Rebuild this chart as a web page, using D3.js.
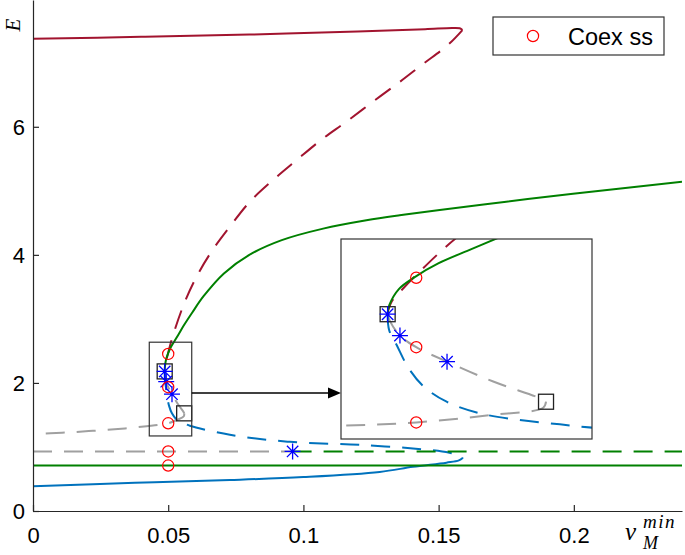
<!DOCTYPE html>
<html>
<head>
<meta charset="utf-8">
<script src="https://cdn.jsdelivr.net/npm/d3@7"></script>
<style>
  body { margin: 0; background: #fff; }
  svg { display: block; }
</style>
</head>
<body>
<div id="chart"></div>
<script>
// axis ticks
var xTicks = [0, 0.05, 0.1, 0.15, 0.2],
    xTickLabels = ["0", "0.05", "0.1", "0.15", "0.2"],
    yTicks = [0, 2, 4, 6],
    yTickLabels = ["0", "2", "4", "6"];

// branches [vMmin, E]
var redSolid = [[0, 7.375], [0.04, 7.405], [0.08, 7.44], [0.12, 7.49], [0.145, 7.525], [0.155, 7.543], [0.1578, 7.538], [0.1588, 7.51]];
var redDashed = [[0.1588, 7.51], [0.1535, 7.28], [0.1442, 6.98], [0.1356, 6.70], [0.1258, 6.395], [0.1159, 6.08], [0.1067, 5.80],
    [0.0975, 5.48], [0.0888, 5.17], [0.0802, 4.83], [0.0728, 4.44], [0.066, 4.05], [0.0605, 3.66], [0.0560, 3.25],
    [0.0518, 2.748], [0.0500, 2.473], [0.04934, 2.361], [0.04888, 2.273], [0.0487, 2.19]];
var greenSolid = [[0.0487, 2.19], [0.04878, 2.25], [0.04922, 2.37], [0.04995, 2.46], [0.0510, 2.56], [0.0524, 2.66],
    [0.0537, 2.75], [0.0558, 2.90], [0.0589, 3.10], [0.0630, 3.35], [0.0706, 3.71], [0.0800, 4.00], [0.0920, 4.23],
    [0.1073, 4.41], [0.1233, 4.54], [0.1356, 4.618], [0.1504, 4.70], [0.175, 4.83], [0.1997, 4.955], [0.24, 5.14]];
var grayUpper = [[0.0487, 2.18], [0.0488, 2.13], [0.04926, 2.02], [0.05, 1.933], [0.0514, 1.825], [0.0535, 1.676], [0.05562, 1.551], [0.0559, 1.525]];
var grayLower = [[0.0559, 1.525], [0.05577, 1.48], [0.05336, 1.425], [0.05, 1.37], [0.0465, 1.345], [0.042, 1.325],
    [0.034, 1.29], [0.0222, 1.252], [0.0107, 1.222], [0, 1.20]];
var blueDashed = [[0.0487, 2.18], [0.04877, 2.06], [0.04911, 1.95], [0.04964, 1.78], [0.05032, 1.642], [0.05138, 1.525],
    [0.0529, 1.438], [0.05471, 1.388], [0.05653, 1.356], [0.058, 1.331], [0.0728, 1.19], [0.095, 1.08], [0.122, 1.03],
    [0.1467, 0.953], [0.154, 0.91], [0.158, 0.865], [0.159, 0.83]];
var blueSolid = [[0.159, 0.83], [0.1575, 0.79], [0.1529, 0.755], [0.1405, 0.69], [0.1282, 0.61], [0.1, 0.53], [0.0728, 0.484],
    [0.0377, 0.44], [0, 0.386]];
var grayFlat = [[0, 0.93], [0.096, 0.93]];
var greenFlatDashed = [[0.096, 0.93], [0.24, 0.93]];
var greenFlat = [[0, 0.71], [0.24, 0.71]];

// markers
var coexX = [0.05, 0.05, 0.05, 0.05, 0.05],
    coexY = [2.453, 1.933, 1.37, 0.93, 0.71];
var squareX = [0.0487, 0.0559],
    squareY = [2.18, 1.525];
var starX = [0.0487, 0.04926, 0.0514, 0.096],
    starY = [2.18, 2.02, 1.825, 0.93];

// zoom box (data) and inset limits
var zoomBoxX = [0.043, 0.0587],
    zoomBoxY = [1.172, 2.636];
var insetXLim = [0.04658, 0.05799],
    insetYLim = [1.246, 2.743];

var colRed = "#a2142f", colGreen = "#008000", colBlue = "#0072bd", colGray = "#a0a0a0";
var dash = "19,12";

var branches = [
    { d: redSolid, c: colRed, dash: null },
    { d: redDashed, c: colRed, dash: dash },
    { d: greenSolid, c: colGreen, dash: null },
    { d: grayUpper, c: colGray, dash: dash },
    { d: grayLower, c: colGray, dash: dash },
    { d: blueDashed, c: colBlue, dash: dash },
    { d: blueSolid, c: colBlue, dash: null },
    { d: grayFlat, c: colGray, dash: dash },
    { d: greenFlatDashed, c: colGreen, dash: dash },
    { d: greenFlat, c: colGreen, dash: null }
];

var width = 685, height = 555;
var svg = d3.select("#chart").append("svg")
    .attr("width", width)
    .attr("height", height)
    .style("font-family", "'Liberation Sans', Arial, sans-serif");

var x = d3.scaleLinear().domain([0, 0.24]).range([33, 682]);
var y = d3.scaleLinear().domain([0, 7.98]).range([511, 0]);

var defs = svg.append("defs");
defs.append("clipPath").attr("id", "mainClip").append("rect")
    .attr("x", x(0)).attr("y", 0).attr("width", x(0.24) - x(0)).attr("height", y(0));

// draw curves + markers for one pair of scales
function drawAll(g, sx, sy) {
    var line = d3.line()
        .x(function (p) { return sx(p[0]); })
        .y(function (p) { return sy(p[1]); })
        .curve(d3.curveCatmullRom.alpha(0.5));

    branches.forEach(function (b) {
        g.append("path")
            .attr("d", line(b.d))
            .attr("fill", "none")
            .attr("stroke", b.c)
            .attr("stroke-width", 2)
            .attr("stroke-dasharray", b.dash);
    });

    // squares
    squareX.forEach(function (v, i) {
        g.append("rect")
            .attr("x", sx(v) - 7.5).attr("y", sy(squareY[i]) - 7.5)
            .attr("width", 15).attr("height", 15)
            .attr("fill", "none").attr("stroke", "#222").attr("stroke-width", 1.3);
    });
    // asterisks
    starX.forEach(function (v, i) {
        var s = 8, d = 5.7;
        g.append("path")
            .attr("transform", "translate(" + sx(v) + "," + sy(starY[i]) + ")")
            .attr("d", "M" + (-s) + ",0H" + s + "M0," + (-s) + "V" + s +
                "M" + (-d) + "," + (-d) + "L" + d + "," + d + "M" + (-d) + "," + d + "L" + d + "," + (-d))
            .attr("stroke", "#0000ff").attr("stroke-width", 1.3).attr("fill", "none");
    });
    // coexistence steady states
    coexX.forEach(function (v, i) {
        g.append("circle")
            .attr("cx", sx(v)).attr("cy", sy(coexY[i])).attr("r", 5.6)
            .attr("fill", "none").attr("stroke", "#ff0000").attr("stroke-width", 1.2);
    });
}

var main = svg.append("g").attr("clip-path", "url(#mainClip)");
drawAll(main, x, y);

// axes
var xAxis = svg.append("g")
    .attr("transform", "translate(0," + y(0) + ")")
    .call(d3.axisBottom(x).tickValues(xTicks)
        .tickFormat(function (d, i) { return xTickLabels[i]; })
        .tickSize(-6).tickSizeOuter(0).tickPadding(16));
var yAxis = svg.append("g")
    .attr("transform", "translate(" + x(0) + ",0)")
    .call(d3.axisLeft(y).tickValues(yTicks)
        .tickFormat(function (d, i) { return yTickLabels[i]; })
        .tickSize(-6).tickSizeOuter(0).tickPadding(8));

[xAxis, yAxis].forEach(function (a) {
    a.select(".domain").attr("stroke", "#262626").attr("stroke-width", 1.2);
    a.selectAll(".tick line").attr("stroke", "#262626").attr("stroke-width", 1.2);
    a.selectAll(".tick text").attr("fill", "#000").style("font-size", "22px")
        .style("font-family", "'Liberation Sans', Arial, sans-serif");
});
yAxis.selectAll(".tick text").attr("dy", "0.36em");

// axis labels
svg.append("text")
    .attr("transform", "translate(20,25) rotate(-90)")
    .attr("text-anchor", "middle")
    .style("font-family", "'Liberation Serif', serif")
    .style("font-style", "italic")
    .style("font-size", "21px")
    .text("E");

var xl = svg.append("text")
    .style("font-family", "'Liberation Serif', serif")
    .style("font-style", "italic");
xl.append("tspan").attr("x", 625).attr("y", 540).style("font-size", "25px").text("v");
xl.append("tspan").attr("x", 643).attr("y", 528).style("font-size", "19px")
    .style("letter-spacing", "1.5px").text("min");
xl.append("tspan").attr("x", 643).attr("y", 549).style("font-size", "18px").text("M");

// zoom box on main plot
svg.append("rect")
    .attr("x", x(zoomBoxX[0])).attr("y", y(zoomBoxY[1]))
    .attr("width", x(zoomBoxX[1]) - x(zoomBoxX[0]))
    .attr("height", y(zoomBoxY[0]) - y(zoomBoxY[1]))
    .attr("fill", "none").attr("stroke", "#333").attr("stroke-width", 1.2);

// inset
var inL = 341, inR = 592, inT = 239, inB = 439;
var ix = d3.scaleLinear().domain(insetXLim).range([inL, inR]);
var iy = d3.scaleLinear().domain(insetYLim).range([inB, inT]);

// arrow from zoom box to inset
var arrowY = (y(zoomBoxY[0]) + y(zoomBoxY[1])) / 2 + 4;
svg.append("line")
    .attr("x1", x(zoomBoxX[1])).attr("y1", arrowY)
    .attr("x2", inL - 10).attr("y2", arrowY)
    .attr("stroke", "#000").attr("stroke-width", 1.5);
svg.append("path")
    .attr("d", "M" + inL + "," + arrowY + "L" + (inL - 13) + "," + (arrowY - 5.5) + "L" + (inL - 13) + "," + (arrowY + 5.5) + "Z")
    .attr("fill", "#000");

defs.append("clipPath").attr("id", "insetClip").append("rect")
    .attr("x", inL).attr("y", inT).attr("width", inR - inL).attr("height", inB - inT);
svg.append("rect")
    .attr("x", inL).attr("y", inT).attr("width", inR - inL).attr("height", inB - inT)
    .attr("fill", "#fff");
var inset = svg.append("g").attr("clip-path", "url(#insetClip)");
drawAll(inset, ix, iy);
svg.append("rect")
    .attr("x", inL).attr("y", inT).attr("width", inR - inL).attr("height", inB - inT)
    .attr("fill", "none").attr("stroke", "#333").attr("stroke-width", 1.2);

// legend
var lg = svg.append("g");
lg.append("rect")
    .attr("x", 493).attr("y", 17).attr("width", 171).attr("height", 38)
    .attr("fill", "#fff").attr("stroke", "#333").attr("stroke-width", 1.2);
lg.append("circle")
    .attr("cx", 533).attr("cy", 36).attr("r", 5.6)
    .attr("fill", "none").attr("stroke", "#ff0000").attr("stroke-width", 1.2);
lg.append("text")
    .attr("x", 568).attr("y", 45)
    .style("font-size", "23.5px")
    .text("Coex ss");
</script>
</body>
</html>
